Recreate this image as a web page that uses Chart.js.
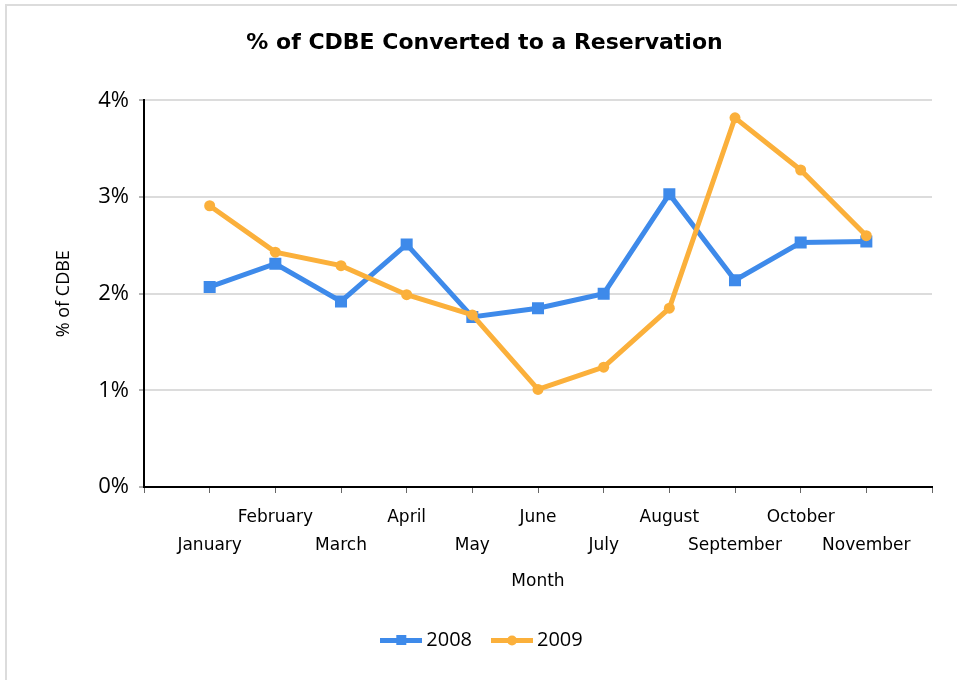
<!DOCTYPE html>
<html>
<head>
  <title>CDBE Conversion Chart</title>
  <script src="https://cdn.jsdelivr.net/npm/chart.js"></script>
  <style>
    body { margin: 0; background: #fff; }
    #wrap {
      position: absolute; left: 5px; top: 4px;
      width: 960px; height: 680px;
      border-top: 2px solid #dcdcdc; border-left: 2px solid #dcdcdc;
    }
  </style>
</head>
<body>
  <div id="wrap">
    <canvas id="convChart" width="950" height="674"></canvas>
  </div>

  <script>
    // Months shown on the x axis
    const months = ['January', 'February', 'March', 'April', 'May', 'June',
                    'July', 'August', 'September', 'October', 'November'];

    // % of CDBE converted
    const values2008 = [2.07, 2.31, 1.92, 2.51, 1.76, 1.85, 2.00, 3.03, 2.14, 2.53, 2.54];
    const values2009 = [2.91, 2.43, 2.29, 1.99, 1.78, 1.01, 1.24, 1.85, 3.82, 3.28, 2.60];

    const yTicks = [0, 1, 2, 3, 4];

    const blue = '#3e8aea';
    const orange = '#fbb03b';

    // empty slot at each end so the axis has a blank interval on both sides
    const labels = [''].concat(months, ['']);
    const pad = arr => [null].concat(arr, [null]);

    // little legend icons: a line with the marker on it
    function legendIcon(color, square) {
      const c = document.createElement('canvas');
      c.width = 42; c.height = 14;
      const g = c.getContext('2d');
      g.fillStyle = color;
      g.fillRect(0, 5, 42, 5);
      if (square) {
        g.fillRect(16, 2, 10, 10);
      } else {
        g.beginPath();
        g.arc(21, 7.5, 5, 0, Math.PI * 2);
        g.fill();
      }
      return c;
    }
    const icons = [legendIcon(blue, true), legendIcon(orange, false)];

    const ctx = document.getElementById('convChart').getContext('2d');
    new Chart(ctx, {
      type: 'line',
      data: {
        labels: labels,
        datasets: [{
          label: '2008',
          data: pad(values2008),
          borderColor: blue,
          backgroundColor: blue,
          borderWidth: 5,
          pointStyle: 'rect',
          pointRadius: 8.5,
          pointBorderWidth: 0,
          order: 1,
          tension: 0
        }, {
          label: '2009',
          data: pad(values2009),
          borderColor: orange,
          backgroundColor: orange,
          borderWidth: 5,
          pointStyle: 'circle',
          pointRadius: 5.5,
          pointBorderWidth: 0,
          order: 0,
          tension: 0
        }]
      },
      options: {
        responsive: false,
        animation: false,
        layout: { padding: { left: 30, right: 25, top: 0, bottom: 20 } },
        plugins: {
          title: {
            display: true,
            text: '% of CDBE Converted to a Reservation',
            color: '#000',
            font: { family: 'DejaVu Sans', size: 22, weight: 'bold' },
            padding: { top: 24, bottom: 44 }
          },
          legend: {
            position: 'bottom',
            labels: {
              usePointStyle: true,
              pointStyleWidth: 30, // icon image is 42 wide, overhangs a little
              color: '#000',
              font: { family: 'Open Sans', size: 20 },
              padding: 25,
              generateLabels: chart => chart.data.datasets.map((ds, i) => ({
                text: ds.label,
                pointStyle: icons[i],
                datasetIndex: i,
                hidden: false,
                lineWidth: 0
              }))
            }
          },
          tooltip: { enabled: false }
        },
        scales: {
          x: {
            offset: false,
            grid: { drawOnChartArea: false, tickLength: 6, tickColor: '#666', tickWidth: 1 },
            border: { color: '#000', width: 2 },
            ticks: {
              autoSkip: false,
              maxRotation: 0,
              padding: 11,
              color: '#000',
              font: { family: 'DejaVu Sans', size: 17, lineHeight: '28px' },
              callback: function(value, index) {
                const name = labels[index];
                if (!name) return '';
                return index % 2 === 0 ? [name, ''] : ['', name];
              }
            },
            title: {
              display: true,
              text: 'Month',
              color: '#000',
              font: { family: 'DejaVu Sans', size: 17 },
              padding: { top: 10, bottom: 13 }
            },
            afterFit: scale => { scale.height = 118; }
          },
          y: {
            min: 0,
            max: 4,
            afterBuildTicks: scale => { scale.ticks = yTicks.map(v => ({ value: v })); },
            grid: { color: '#dcdcdc', lineWidth: 2, tickLength: 5, tickColor: '#666', tickWidth: 1 },
            border: { color: '#000', width: 2 },
            ticks: {
              padding: 10,
              color: '#000',
              font: { family: 'Open Sans', size: 22 },
              callback: v => v + '%'
            },
            title: {
              display: true,
              text: '% of CDBE',
              color: '#000',
              font: { family: 'Open Sans', size: 18 },
              padding: { top: 16, bottom: 0 }
            },
            afterFit: scale => { scale.width = 107; }
          }
        }
      }
    });
  </script>
</body>
</html>
